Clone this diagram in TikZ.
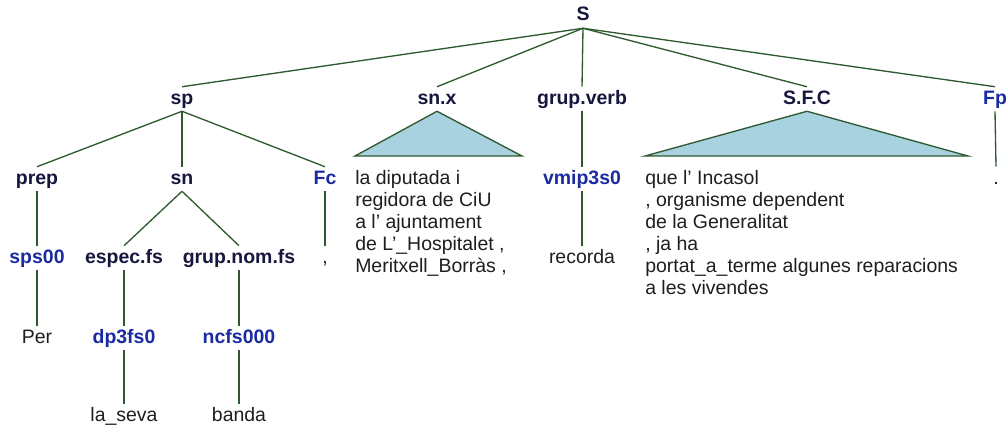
\documentclass[tikz,border=0pt]{standalone}
\usepackage{fontspec}
\setmainfont{Liberation Sans}
\definecolor{ntc}{HTML}{16163E}
\definecolor{tagc}{HTML}{1A2AA0}
\definecolor{wc}{HTML}{1E1E1E}
\definecolor{edgec}{HTML}{2F5A2F}
\definecolor{trifill}{HTML}{A9D2E0}
\begin{document}
\begin{tikzpicture}[x=0.75pt,y=-0.75pt,
  lab/.style={font=\fontsize{14.6}{17}\selectfont, text height=10.5pt, text depth=3pt, inner xsep=0pt, inner ysep=2.25pt},
  nt/.style={lab, font=\fontsize{14.6}{17}\selectfont\bfseries, text=ntc},
  tag/.style={nt, text=tagc},
  word/.style={lab, text=wc},
  block/.style={font=\fontsize{14.6}{16.5}\selectfont, text=wc, align=left, inner sep=0pt, anchor=north west},
  edge/.style={draw=edgec, line width=1pt},
  tri/.style={draw=edgec, line width=1pt, fill=trifill, line join=miter}]
\useasboundingbox (0,0) rectangle (1006,432);
% level 0
\node[nt] (S) at (583,16) {S};
% level 1
\node[nt] (sp) at (182,99) {sp};
\node[nt] (snx) at (437,99) {sn.x};
\node[nt] (gv) at (582,99) {grup.verb};
\node[nt] (sfc) at (807,99) {S.F.C};
\node[tag] (fp) at (995,99) {Fp};
% level 2
\node[nt] (prep) at (37,179) {prep};
\node[nt] (sn) at (182,179) {sn};
\node[tag] (fc) at (325,179) {Fc};
\node[tag] (vmip) at (582,179) {vmip3s0};
\node[word] (dot) at (996,179) {.};
% level 3
\node[tag] (sps) at (37,258) {sps00};
\node[nt] (espec) at (124,258) {espec.fs};
\node[nt] (gnom) at (239,258) {grup.nom.fs};
\node[word] (comma) at (325,258) {,};
\node[word] (recorda) at (582,258) {recorda};
% level 4
\node[word] (per) at (37,338) {Per};
\node[tag] (dp) at (124,338) {dp3fs0};
\node[tag] (ncfs) at (239,338) {ncfs000};
% level 5
\node[word] (seva) at (124,416) {la\_seva};
\node[word] (banda) at (239,416) {banda};
% text blocks
\node[block] (snxtext) at (355,170) {la diputada i\\regidora de CiU\\a l’ ajuntament\\de L’\_Hospitalet ,\\Meritxell\_Borràs ,};
\node[block] (sfctext) at (645,170) {que l’ Incasol\\, organisme dependent\\de la Generalitat\\, ja ha\\portat\_a\_terme algunes reparacions\\a les vivendes};
% edges
\draw[edge] (S.south) -- (sp.north);
\draw[edge] (S.south) -- (snx.north);
\draw[edge] (S.south) -- (gv.north);
\draw[edge] (S.south) -- (sfc.north);
\draw[edge] (S.south) -- (fp.north);
\draw[edge] (sp.south) -- (prep.north);
\draw[edge] (sp.south) -- (sn.north);
\draw[edge] (sp.south) -- (fc.north);
\draw[edge] (prep.south) -- (sps.north);
\draw[edge] (sps.south) -- (per.north);
\draw[edge] (sn.south) -- (espec.north);
\draw[edge] (sn.south) -- (gnom.north);
\draw[edge] (espec.south) -- (dp.north);
\draw[edge] (dp.south) -- (seva.north);
\draw[edge] (gnom.south) -- (ncfs.north);
\draw[edge] (ncfs.south) -- (banda.north);
\draw[edge] (fc.south) -- (comma.north);
\draw[edge] (gv.south) -- (vmip.north);
\draw[edge] (vmip.south) -- (recorda.north);
\draw[edge] (fp.south) -- (dot.north);
% triangles
\coordinate (snxL) at (355,156);
\coordinate (snxR) at (522,156);
\coordinate (sfcL) at (645,156);
\coordinate (sfcR) at (968,156);
\draw[tri] (snx.south) -- (snxL) -- (snxR) -- cycle;
\draw[tri] (sfc.south) -- (sfcL) -- (sfcR) -- cycle;
\end{tikzpicture}
\end{document}
